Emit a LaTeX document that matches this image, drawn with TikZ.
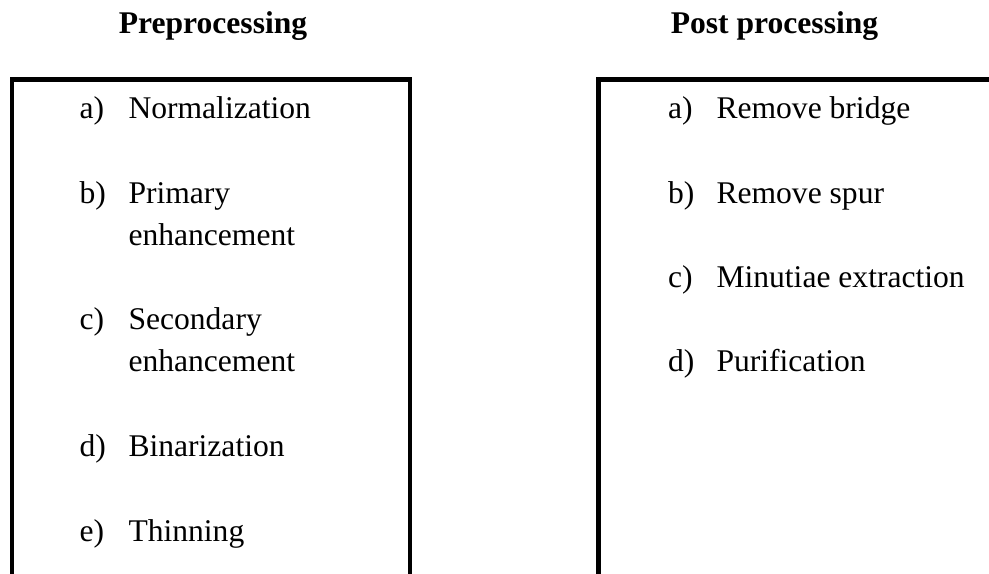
\documentclass[tikz,border=0pt]{standalone}
\usepackage{fontspec}
\setmainfont{Liberation Serif}
\usetikzlibrary{positioning}

\begin{document}
\begin{tikzpicture}[x=0.38pt,y=-0.38pt,
  head/.style={font=\bfseries\fontsize{12}{16}\selectfont,anchor=base,inner sep=0pt},
  tag/.style={font=\fontsize{12}{16}\selectfont,anchor=base west,inner sep=0pt},
  frame/.style={draw,line width=1.8pt}]

 \useasboundingbox (0,0) rectangle (989,573);
 \clip (0,0) rectangle (989,573);

 % headings
 \node[head] (prehead) at (213,33) {Preprocessing};
 \node[head] (posthead) at (774.5,33) {Post processing};

 % boxes, open at the bottom (and at the right)
 \draw[frame] (12,620) -- (12,79.5) -- (410,79.5) -- (410,620);
 \draw[frame] (598.5,620) -- (598.5,79.5) -- (1040,79.5);

 % preprocessing steps
 \node[tag] (pa) at (79,118) {a)};
 \node[tag] (pat) at (128,118) {Normalization};
 \node[tag] (pb) at (79,203) {b)};
 \node[tag] (pbt) at (128,203) {Primary};
 \node[tag] (pbu) at (128,245) {enhancement};
 \node[tag] (pc) at (79,329) {c)};
 \node[tag] (pct) at (128,329) {Secondary};
 \node[tag] (pcu) at (128,371.5) {enhancement};
 \node[tag] (pd) at (79,456) {d)};
 \node[tag] (pdt) at (128,456) {Binarization};
 \node[tag] (pe) at (79,541) {e)};
 \node[tag] (pet) at (128,541) {Thinning};

 % post processing steps
 \node[tag] (qa) at (667.5,118) {a)};
 \node[tag] (qat) at (716,118) {Remove bridge};
 \node[tag] (qb) at (667.5,203) {b)};
 \node[tag] (qbt) at (716,203) {Remove spur};
 \node[tag] (qc) at (667.5,287) {c)};
 \node[tag] (qct) at (716,287) {Minutiae extraction};
 \node[tag] (qd) at (667.5,371.5) {d)};
 \node[tag] (qdt) at (716,371.5) {Purification};
\end{tikzpicture}
\end{document}
